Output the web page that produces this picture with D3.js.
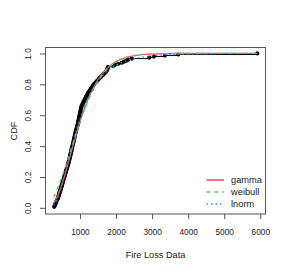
<!DOCTYPE html>
<html><head><meta charset="utf-8">
<script src="https://cdn.jsdelivr.net/npm/d3@7"></script>
<style>
body{margin:0;background:#fff;}
text{font-family:"Liberation Sans",Arial,sans-serif;fill:#222;}
</style></head>
<body><svg id="c" width="289" height="273"></svg>
<script>
const lossData = [
285,298,310,322,334,346,358,370,382,394,
402,411,419,428,436,445,453,462,470,479,487,496,504,513,521,530,539,
548,556,565,574,582,591,600,608,617,625,634,643,651,660,668,677,
684,690,697,704,711,717,724,731,738,744,751,758,765,771,778,785,792,798,805,812,
818,825,831,838,844,851,857,864,870,877,883,890,
898,906,914,922,929,937,945,
951,957,963,969,975,980,986,992,998,1004,1010,1016,1022,1027,1033,1039,1045,
1059,1073,1088,1102,1116,1130,1145,1159,1173,1187,1202,1216,1230,
1250,1270,1290,1310,1330,1350,1370,1390,1410,
1437,1464,1491,1518,1545,1572,1600,
1630,1660,1690,1720,
1735,1750,1762,1772,1780,
1925,1971,2060,2157,2220,2290,2340,2434,2922,3052,3357,3727,5917
];
// Fitted CDF curves, read at these x positions
const fitX     = [270,350,450,550,650,750,850,950,1050,1200,1400,1600,1800,2000,2300,2600,3000,3500,4000,5000,5917];
const gammaF   = [0.030,0.063,0.119,0.190,0.271,0.355,0.439,0.519,0.593,0.689,0.791,0.863,0.913,0.947,0.976,0.989,0.996,0.9993,0.9999,1,1];
const weibullF = [0.069,0.110,0.169,0.235,0.306,0.379,0.451,0.522,0.588,0.679,0.779,0.856,0.910,0.946,0.977,0.991,0.998,0.9997,1,1,1];
const lnormF   = [0.016,0.046,0.109,0.191,0.282,0.374,0.461,0.540,0.610,0.698,0.786,0.849,0.893,0.924,0.954,0.971,0.984,0.9925,0.996,0.9989,0.9996];
const xTicks = [1000,2000,3000,4000,5000,6000];
const yTicks = [0,0.2,0.4,0.6,0.8,1.0];
const legendNames = ["gamma","weibull","lnorm"];
const fitColors = ["#DF536B","#61D04F","#2297E6"];
const fitDash = [null,"4,4","1.5,3"];

const FONT = "Liberation Sans, Arial, sans-serif";
const svg = d3.select("#c");
const x = d3.scaleLinear().domain([30,6158]).range([45,266]);
const y = d3.scaleLinear().domain([-0.04,1.04]).range([214,47.3]);

// ECDF horizontals
const n = lossData.length;
const steps = lossData.map((v,i)=>({x0:v, x1:(i<n-1?lossData[i+1]:v), F:(i+1)/n}));
svg.append("g").selectAll("line").data(steps).join("line")
  .attr("x1",d=>x(d.x0)).attr("x2",d=>x(d.x1)).attr("y1",d=>y(d.F)).attr("y2",d=>y(d.F))
  .attr("stroke","#000").attr("stroke-width",1);
svg.append("g").selectAll("circle").data(steps).join("circle")
  .attr("cx",d=>x(d.x0)).attr("cy",d=>y(d.F)).attr("r",2.1).attr("fill","#000");

// fitted curves
const fits = [gammaF, weibullF, lnormF];
const line = d3.line().x(d=>x(d[0])).y(d=>y(d[1])).curve(d3.curveMonotoneX);
fits.forEach((f,k)=>{
  svg.append("path").datum(fitX.map((v,i)=>[v,f[i]]))
    .attr("d",line).attr("fill","none").attr("stroke",fitColors[k])
    .attr("stroke-width",1.3).attr("stroke-dasharray",fitDash[k]);
});

// box
svg.append("rect").attr("x",45.5).attr("y",47.5).attr("width",220).attr("height",166.5)
  .attr("fill","none").attr("stroke","#555").attr("stroke-width",1);

// axes
const xa = svg.append("g").attr("transform","translate(0,214)")
  .call(d3.axisBottom(x).tickValues(xTicks).tickSize(5).tickFormat(d3.format("d")));
xa.select(".domain").remove();
xa.selectAll("line").attr("stroke","#555");
xa.selectAll("text").attr("font-size","8.3px").attr("y",20.5).attr("dy","0").attr("fill","#222")
  .style("font-family",FONT);

const ya = svg.append("g").attr("transform","translate(45,0)")
  .call(d3.axisLeft(y).tickValues(yTicks).tickSize(5).tickFormat(d3.format(".1f")));
ya.select(".domain").remove();
ya.selectAll("line").attr("stroke","#555");
ya.selectAll("text").remove();
ya.selectAll(".tick").append("text")
  .attr("transform","translate(-14,0) rotate(-90)")
  .attr("text-anchor","middle").attr("dy","0")
  .attr("font-size","8.3px").attr("fill","#222")
  .style("font-family",FONT)
  .text(d=>d3.format(".1f")(d));

// axis titles
svg.append("text").attr("x",155.5).attr("y",257.5).attr("text-anchor","middle")
  .attr("font-size","9.2px").text("Fire Loss Data");
svg.append("text").attr("transform","translate(16.5,131) rotate(-90)").attr("text-anchor","middle")
  .attr("font-size","9.2px").text("CDF");

// legend
const lg = svg.append("g");
legendNames.forEach((name,k)=>{
  const yy = 180 + k*12;
  lg.append("line").attr("x1",206.5).attr("x2",224).attr("y1",yy).attr("y2",yy)
    .attr("stroke",fitColors[k]).attr("stroke-width",1.6).attr("stroke-dasharray",fitDash[k]);
  lg.append("text").attr("x",231).attr("y",yy+3.2).attr("font-size","9.3px").text(name);
});
</script></body></html>
